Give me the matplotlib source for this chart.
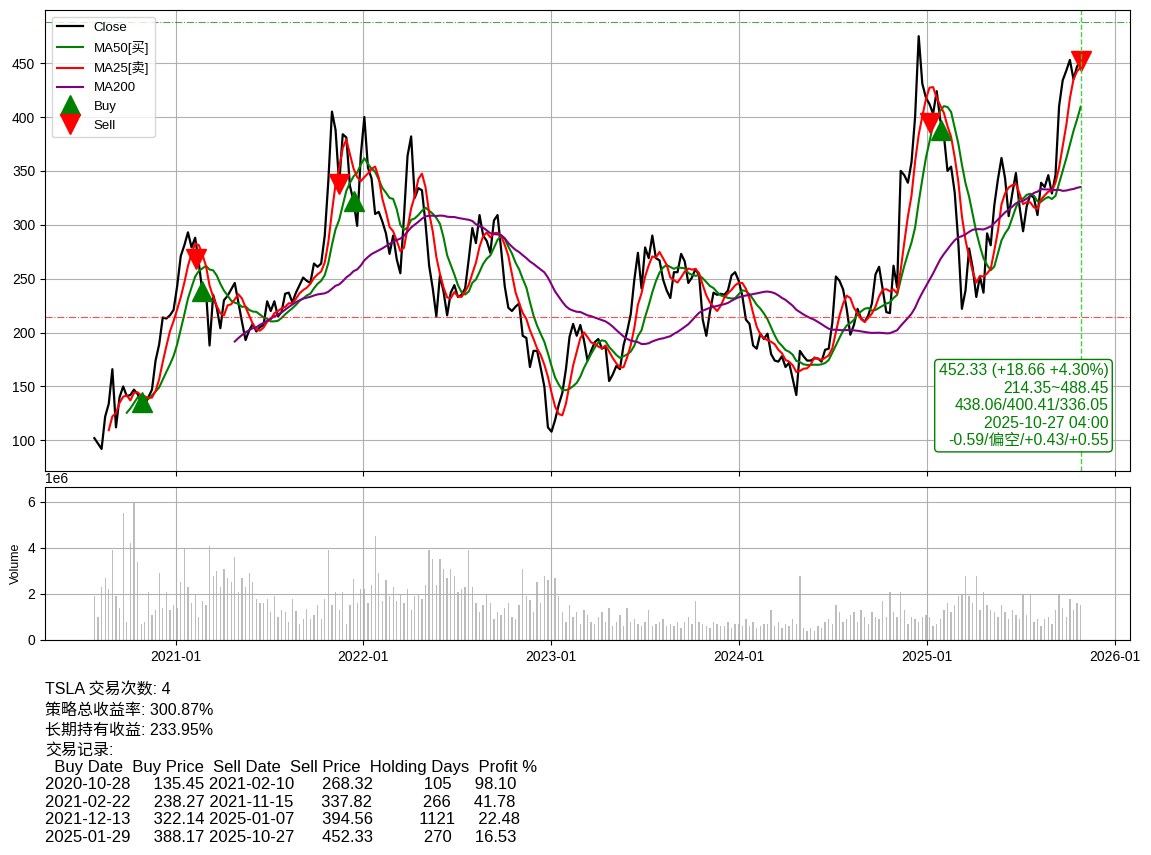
#read chart values, draw TSLA MA strategy plot
import matplotlib
matplotlib.use('Agg')
import matplotlib.pyplot as plt
import matplotlib.dates as mdates
import pandas as pd

plt.rcParams['font.family'] = ['Liberation Sans', 'Noto Sans CJK SC', 'DejaVu Sans']
plt.rcParams['axes.unicode_minus'] = False

# weekly closes (mondays)
close_2020 = [102, 97, 92, 122, 134, 166, 112, 140, 150, 141,
              142, 147, 143, 135, 133, 140, 147, 174, 189, 214,
              213, 216, 221]
close_2021 = [243, 271, 281, 293, 279, 288, 265, 238, 239, 188,
              235, 223, 204, 230, 234, 240, 246, 228, 210, 193,
              202, 208, 201, 205, 207, 229, 220, 229, 215, 219,
              236, 237, 228, 237, 244, 251, 248, 246, 264, 261,
              264, 290, 341, 405, 388, 338, 384, 381, 336, 322,
              299, 364]
close_2022 = [400, 353, 343, 310, 312, 303, 292, 273, 290, 268,
              255, 307, 364, 382, 325, 334, 332, 301, 262, 241,
              215, 253, 238, 216, 237, 244, 233, 235, 241, 268,
              297, 283, 309, 290, 285, 274, 304, 309, 277, 243,
              223, 220, 224, 227, 197, 195, 168, 183, 183, 167,
              150, 112]
close_2023 = [108, 119, 133, 144, 166, 196, 208, 197, 207, 193,
              174, 183, 191, 194, 185, 187, 155, 161, 169, 166,
              188, 201, 217, 249, 274, 241, 279, 269, 290, 269,
              267, 249, 239, 232, 256, 256, 273, 266, 246, 251,
              259, 253, 212, 197, 219, 237, 235, 236, 235, 239,
              253, 256]
close_2024 = [248, 234, 212, 208, 188, 185, 199, 194, 199, 180,
              174, 173, 178, 168, 172, 157, 142, 183, 178, 174,
              174, 176, 176, 173, 184, 185, 209, 252, 248, 240,
              222, 198, 207, 222, 213, 210, 216, 227, 254, 261,
              240, 219, 218, 262, 242, 350, 346, 339, 358, 400,
              475, 431, 418]
close_2025 = [412, 403, 424, 397, 383, 350, 354, 330, 284, 222,
              239, 278, 260, 233, 252, 237, 292, 281, 318, 342,
              362, 343, 308, 329, 348, 317, 294, 317, 328, 325,
              309, 339, 335, 346, 329, 346, 410, 434, 443, 453,
              435, 447, 452.33]

# weekly volume, 1e6
vol_2020 = [1.9, 1.0, 2.3, 2.7, 2.2, 3.9, 1.9, 1.4, 5.5, 0.8,
            4.2, 6.0, 3.4, 0.7, 0.8, 2.1, 1.1, 1.3, 2.9, 1.4,
            2.1, 1.3, 1.5]
vol_2021 = [1.4, 2.5, 4.0, 2.3, 1.6, 2.0, 1.0, 1.7, 1.5, 4.1,
            2.8, 3.0, 2.3, 3.1, 2.7, 2.5, 3.6, 2.1, 2.7, 2.3,
            2.9, 2.5, 1.8, 1.6, 1.6, 1.8, 1.2, 1.9, 1.0, 1.3,
            1.2, 0.8, 1.8, 1.25, 0.7, 0.9, 1.35, 0.9, 1.1, 1.5,
            0.9, 1.8, 3.9, 1.5, 2.1, 1.3, 2.1, 0.7, 1.5, 2.65,
            1.6, 2.2]
vol_2022 = [2.2, 1.6, 2.4, 4.5, 2.9, 1.7, 2.6, 1.9, 2.3, 1.7,
            2.0, 1.6, 2.2, 1.3, 1.9, 2.0, 1.8, 2.4, 3.9, 3.5,
            2.4, 3.5, 3.1, 2.7, 3.1, 2.8, 2.1, 2.2, 2.3, 3.9,
            2.3, 1.6, 1.2, 1.5, 2.0, 1.6, 0.9, 1.2, 1.1, 1.4,
            1.6, 1.0, 0.9, 1.5, 3.1, 1.9, 1.75, 1.2, 2.5, 1.6,
            2.8, 2.6]
vol_2023 = [2.1, 2.7, 1.9, 1.2, 0.8, 1.5, 1.0, 1.2, 0.7, 1.3,
            1.1, 0.8, 0.7, 1.0, 1.2, 0.8, 1.4, 0.6, 0.8, 1.1,
            0.6, 1.4, 0.8, 0.9, 0.7, 0.6, 0.8, 1.3, 0.6, 0.7,
            0.8, 0.9, 0.6, 0.7, 0.6, 0.8, 0.5, 0.8, 1.0, 0.7,
            1.7, 0.8, 0.7, 0.6, 0.5, 0.8, 0.7, 0.6, 0.6, 0.8,
            0.5, 0.7]
vol_2024 = [0.7, 0.6, 0.9, 0.6, 0.8, 0.5, 0.6, 0.7, 0.7, 1.3,
            0.6, 0.8, 0.5, 0.7, 0.6, 0.9, 0.7, 2.8, 0.5, 0.4,
            0.5, 0.4, 0.6, 0.5, 0.8, 0.9, 0.7, 1.5, 1.2, 0.8,
            0.9, 1.1, 1.2, 0.8, 1.3, 1.0, 0.7, 1.2, 1.0, 0.9,
            1.7, 1.0, 2.1, 1.2, 1.0, 2.1, 1.3, 0.7, 1.0, 0.9,
            0.8, 1.0, 1.1]
vol_2025 = [1.0, 0.6, 0.7, 0.9, 1.3, 1.6, 1.2, 1.5, 1.9, 2.0,
            2.8, 1.9, 1.6, 2.8, 1.3, 2.1, 1.5, 1.3, 1.2, 1.0,
            1.5, 1.2, 0.9, 1.3, 1.1, 0.9, 2.0, 1.1, 2.0, 0.8,
            0.9, 0.6, 0.9, 1.0, 0.7, 1.3, 2.0, 1.4, 1.0, 1.8,
            1.3, 1.6, 1.5]

year_starts = ['2020-07-27', '2021-01-04', '2022-01-03',
               '2023-01-02', '2024-01-01', '2025-01-06']
closes = [close_2020, close_2021, close_2022, close_2023, close_2024, close_2025]
vols = [vol_2020, vol_2021, vol_2022, vol_2023, vol_2024, vol_2025]

# trade records as printed under the chart
buy_dates = ['2020-10-28', '2021-02-22', '2021-12-13', '2025-01-29']
buy_prices = [135.45, 238.27, 322.14, 388.17]
sell_dates = ['2021-02-10', '2021-11-15', '2025-01-07', '2025-10-27']
sell_prices = [268.32, 337.82, 394.56, 452.33]
holding_days = [105, 266, 1121, 270]
profit_pct = [98.10, 41.78, 22.48, 16.53]
total_ret = 300.87
hold_ret = 233.95

range_low = 214.35
range_high = 488.45
info_lines = ['452.33 (+18.66 +4.30%)', '214.35~488.45', '438.06/400.41/336.05',
              '2025-10-27 04:00', '-0.59/偏空/+0.43/+0.55']

parts = []
for start, c, v in zip(year_starts, closes, vols):
    idx = pd.date_range(start, periods=len(c), freq='7D')
    parts.append(pd.DataFrame({'Close': c, 'Volume': [x * 1e6 for x in v]}, index=idx))
df = pd.concat(parts)
# weekly points: 5/10/40 weeks ~ 25/50/200 trading days
df['MA25'] = df['Close'].rolling(5).mean()
df['MA50'] = df['Close'].rolling(10).mean()
df['MA200'] = df['Close'].rolling(40).mean()

trades = pd.DataFrame({'Buy Date': buy_dates, 'Buy Price': buy_prices,
                       'Sell Date': sell_dates, 'Sell Price': sell_prices,
                       'Holding Days': holding_days, 'Profit %': profit_pct})

fig = plt.figure(figsize=(11.51, 8.55), dpi=100)
ax = fig.add_axes([0.0391, 0.4491, 0.9427, 0.5392])
axv = fig.add_axes([0.0391, 0.2515, 0.9427, 0.1789], sharex=ax)

ax.plot(df.index, df['Close'], color='black', lw=1.6, label='Close')
ax.plot(df.index, df['MA50'], color='green', lw=1.5, label='MA50[买]')
ax.plot(df.index, df['MA25'], color='red', lw=1.5, label='MA25[卖]')
ax.plot(df.index, df['MA200'], color='purple', lw=1.5, label='MA200')
ax.plot(pd.to_datetime(buy_dates), buy_prices, '^', color='green', markersize=15, label='Buy')
ax.plot(pd.to_datetime(sell_dates), sell_prices, 'v', color='red', markersize=15, label='Sell')
ax.axhline(range_low, color='red', linestyle='-.', lw=0.8, alpha=0.7)
ax.axhline(range_high, color='green', linestyle='-.', lw=0.8, alpha=0.7)
ax.axvline(df.index[-1], color='limegreen', linestyle='--', lw=1.0, alpha=0.9)
ax.grid(True)
ax.legend(loc='upper left', fontsize=9.5)
ax.set_ylim(71.5, 499.3)
ax.text(0.98, 0.05, '\n'.join(info_lines), transform=ax.transAxes, ha='right', va='bottom',
        color='green', fontsize=11.3, multialignment='right', linespacing=1.2,
        bbox=dict(boxstyle='round,pad=0.25', facecolor='white', edgecolor='green'))
plt.setp(ax.get_xticklabels(), visible=False)

axv.bar(df.index, df['Volume'], width=2.5, color='#bdbdbd')
axv.set_ylabel('Volume', fontsize=9)
axv.set_ylim(0, 6.65e6)
axv.grid(True)
axv.xaxis.set_major_locator(mdates.YearLocator())
axv.xaxis.set_major_formatter(mdates.DateFormatter('%Y-%m'))
axv.set_xlim(pd.Timestamp('2020-04-22'), pd.Timestamp('2026-01-31'))

head = ['TSLA 交易次数: %d' % len(trades),
        '策略总收益率: %.2f%%' % total_ret,
        '长期持有收益: %.2f%%' % hold_ret,
        '交易记录:']
for i, line in enumerate(head):
    fig.text(0.039, 1 - (690 + 20 * i) / 855, line, fontsize=11.5, va='center')
table = trades.to_string(index=False, float_format='%.2f').split('\n')
for i, line in enumerate(table):
    fig.text(0.039, 1 - (767 + 17.5 * i) / 855, line, fontsize=12, va='center')

plt.savefig('out.png')
